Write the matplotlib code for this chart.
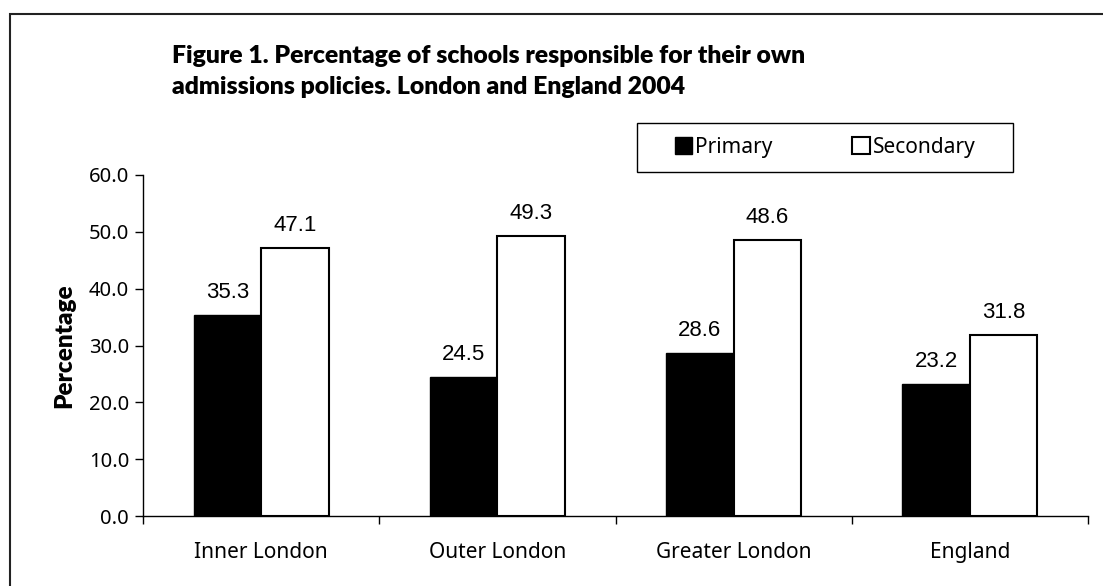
import numpy as np
import matplotlib.pyplot as plt
from matplotlib.patches import Rectangle, Patch

categories = ['Inner London', 'Outer London', 'Greater London', 'England']
primary = [35.3, 24.5, 28.6, 23.2]
secondary = [47.1, 49.3, 48.6, 31.8]
yticks = [0, 10, 20, 30, 40, 50, 60]

W, H = 1103, 586
fig = plt.figure(figsize=(W / 100, H / 100), dpi=100)

# axes box in pixel coords: left 143, right 1088, bottom 516, top 175
ax = fig.add_axes([143 / W, 1 - 516 / H, (1088 - 143) / W, (516 - 175) / H])

x = np.arange(len(categories))
bw = 1 / 3.5
ax.bar(x - bw / 2, primary, bw, color='black', edgecolor='black', linewidth=1)
ax.bar(x + bw / 2, secondary, bw, color='white', edgecolor='black', linewidth=1.5)

for i in range(len(categories)):
    ax.text(x[i] - bw / 2, primary[i] + 3.0, f'{primary[i]:.1f}', ha='center',
            va='baseline', fontsize=16, family='Liberation Sans')
    ax.text(x[i] + bw / 2, secondary[i] + 3.0, f'{secondary[i]:.1f}', ha='center',
            va='baseline', fontsize=16, family='Liberation Sans')

ax.set_xlim(-0.5, len(categories) - 0.5)
ax.set_ylim(0, 60)
ax.set_yticks(yticks)
ax.set_yticklabels([f'{v:.1f}' for v in yticks], family='Noto Sans', fontsize=14.5)
ax.set_xticks(np.arange(len(categories) + 1) - 0.5)
ax.set_xticklabels([])
ax.set_xticks(x, minor=True)
ax.set_xticklabels(categories, minor=True, family='Noto Sans', fontsize=15)
ax.tick_params(axis='x', which='major', length=6, direction='out', width=1)
ax.tick_params(axis='x', which='minor', length=0, pad=19)
ax.tick_params(axis='y', length=6, width=1, pad=4)
for s in ['top', 'right']:
    ax.spines[s].set_visible(False)
for s in ['left', 'bottom']:
    ax.spines[s].set_linewidth(1)

ax.set_ylabel('Percentage', family='Lato', fontweight='heavy', fontsize=17.5, labelpad=10)

fig.text(172 / W, 1 - 71.5 / H,
         'Figure 1. Percentage of schools responsible for their own\nadmissions policies. London and England 2004',
         family='Lato', fontweight='heavy', fontsize=17.8, va='center', ha='left',
         linespacing=1.55)

# legend box drawn by hand, entries placed inside it
fig.patches.append(Rectangle((637 / W, 1 - 172 / H), (1013 - 637) / W, 49 / H,
                             transform=fig.transFigure, fill=False,
                             edgecolor='black', linewidth=1))
handles = [Patch(facecolor='black', edgecolor='black', label='Primary'),
           Patch(facecolor='white', edgecolor='black', linewidth=1.5, label='Secondary')]
leg = fig.legend(handles=handles, loc='center', ncol=2,
                 bbox_to_anchor=((637 + 1013) / 2 / W, 1 - (123 + 172) / 2 / H),
                 frameon=False, prop={'family': 'Noto Sans', 'size': 15},
                 handlelength=0.85, handleheight=0.85, handletextpad=0.15,
                 columnspacing=3.8, borderpad=0)

# outer border (top and left edges visible, rest cropped)
fig.patches.append(Rectangle((9.5 / W, -0.1), 1.2, 1 - 13.5 / H + 0.1,
                             transform=fig.transFigure, fill=False,
                             edgecolor='#222222', linewidth=1.5))

fig.savefig('out.png', dpi=100)
